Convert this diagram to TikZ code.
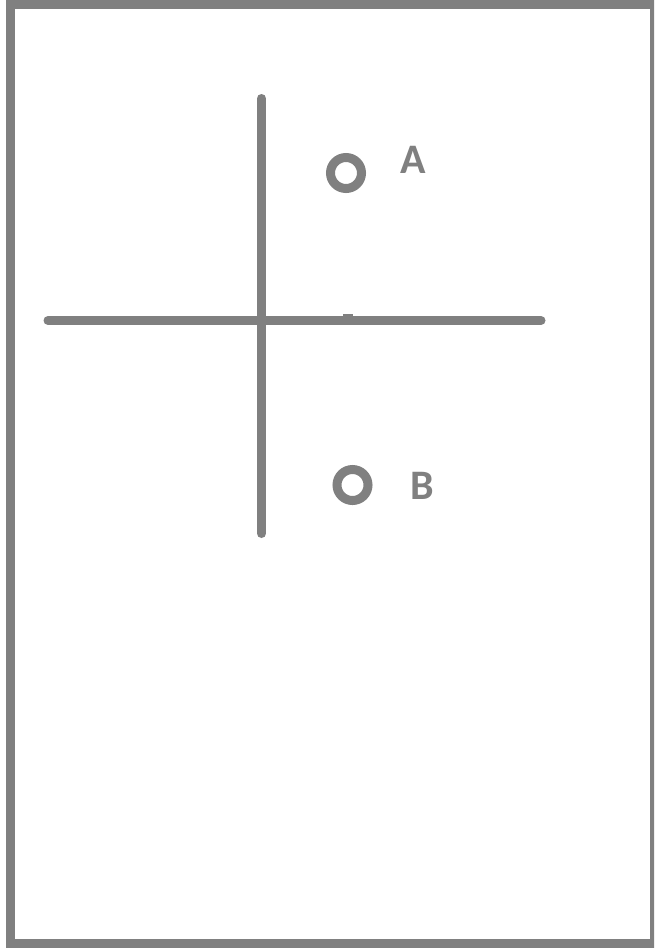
\documentclass[tikz,border=0pt]{standalone}
\usepackage{fontspec}
\setmainfont{Carlito}
\definecolor{lgray}{RGB}{128,128,128}
\tikzset{
  stroke/.style={draw=lgray, line width=9pt},
  bar/.style={draw=lgray, line width=9pt, line cap=round},
  ring/.style={circle, draw=lgray, line width=9pt, minimum size=31pt, inner sep=0pt},
  lbl/.style={text=lgray, font=\fontsize{42}{44}\selectfont\bfseries, anchor=base, inner sep=0pt}
}
\begin{document}
\begin{tikzpicture}[x=1pt,y=-1pt]
\useasboundingbox (0,0) rectangle (654,948);
\clip (0,0) rectangle (654,948);
\fill[white] (0,0) rectangle (654,948);
\draw[stroke] (10.5,4.5) rectangle (654.5,943.5);
\coordinate (vt) at (261.5,98.5);
\coordinate (vb) at (261.5,533.5);
\coordinate (hl) at (48,320.5);
\coordinate (hr) at (541,320.5);
\draw[bar] (vt) -- (vb);
\draw[bar] (hl) -- (hr);
\fill[lgray] (343,314) rectangle (353,318);
\node[ring] (ca) at (346,173) {};
\node[ring] (cb) at (352.5,485) {};
\node[lbl] (la) at (413,173) {A};
\node[lbl] (lb) at (422,499) {B};
\end{tikzpicture}
\end{document}
